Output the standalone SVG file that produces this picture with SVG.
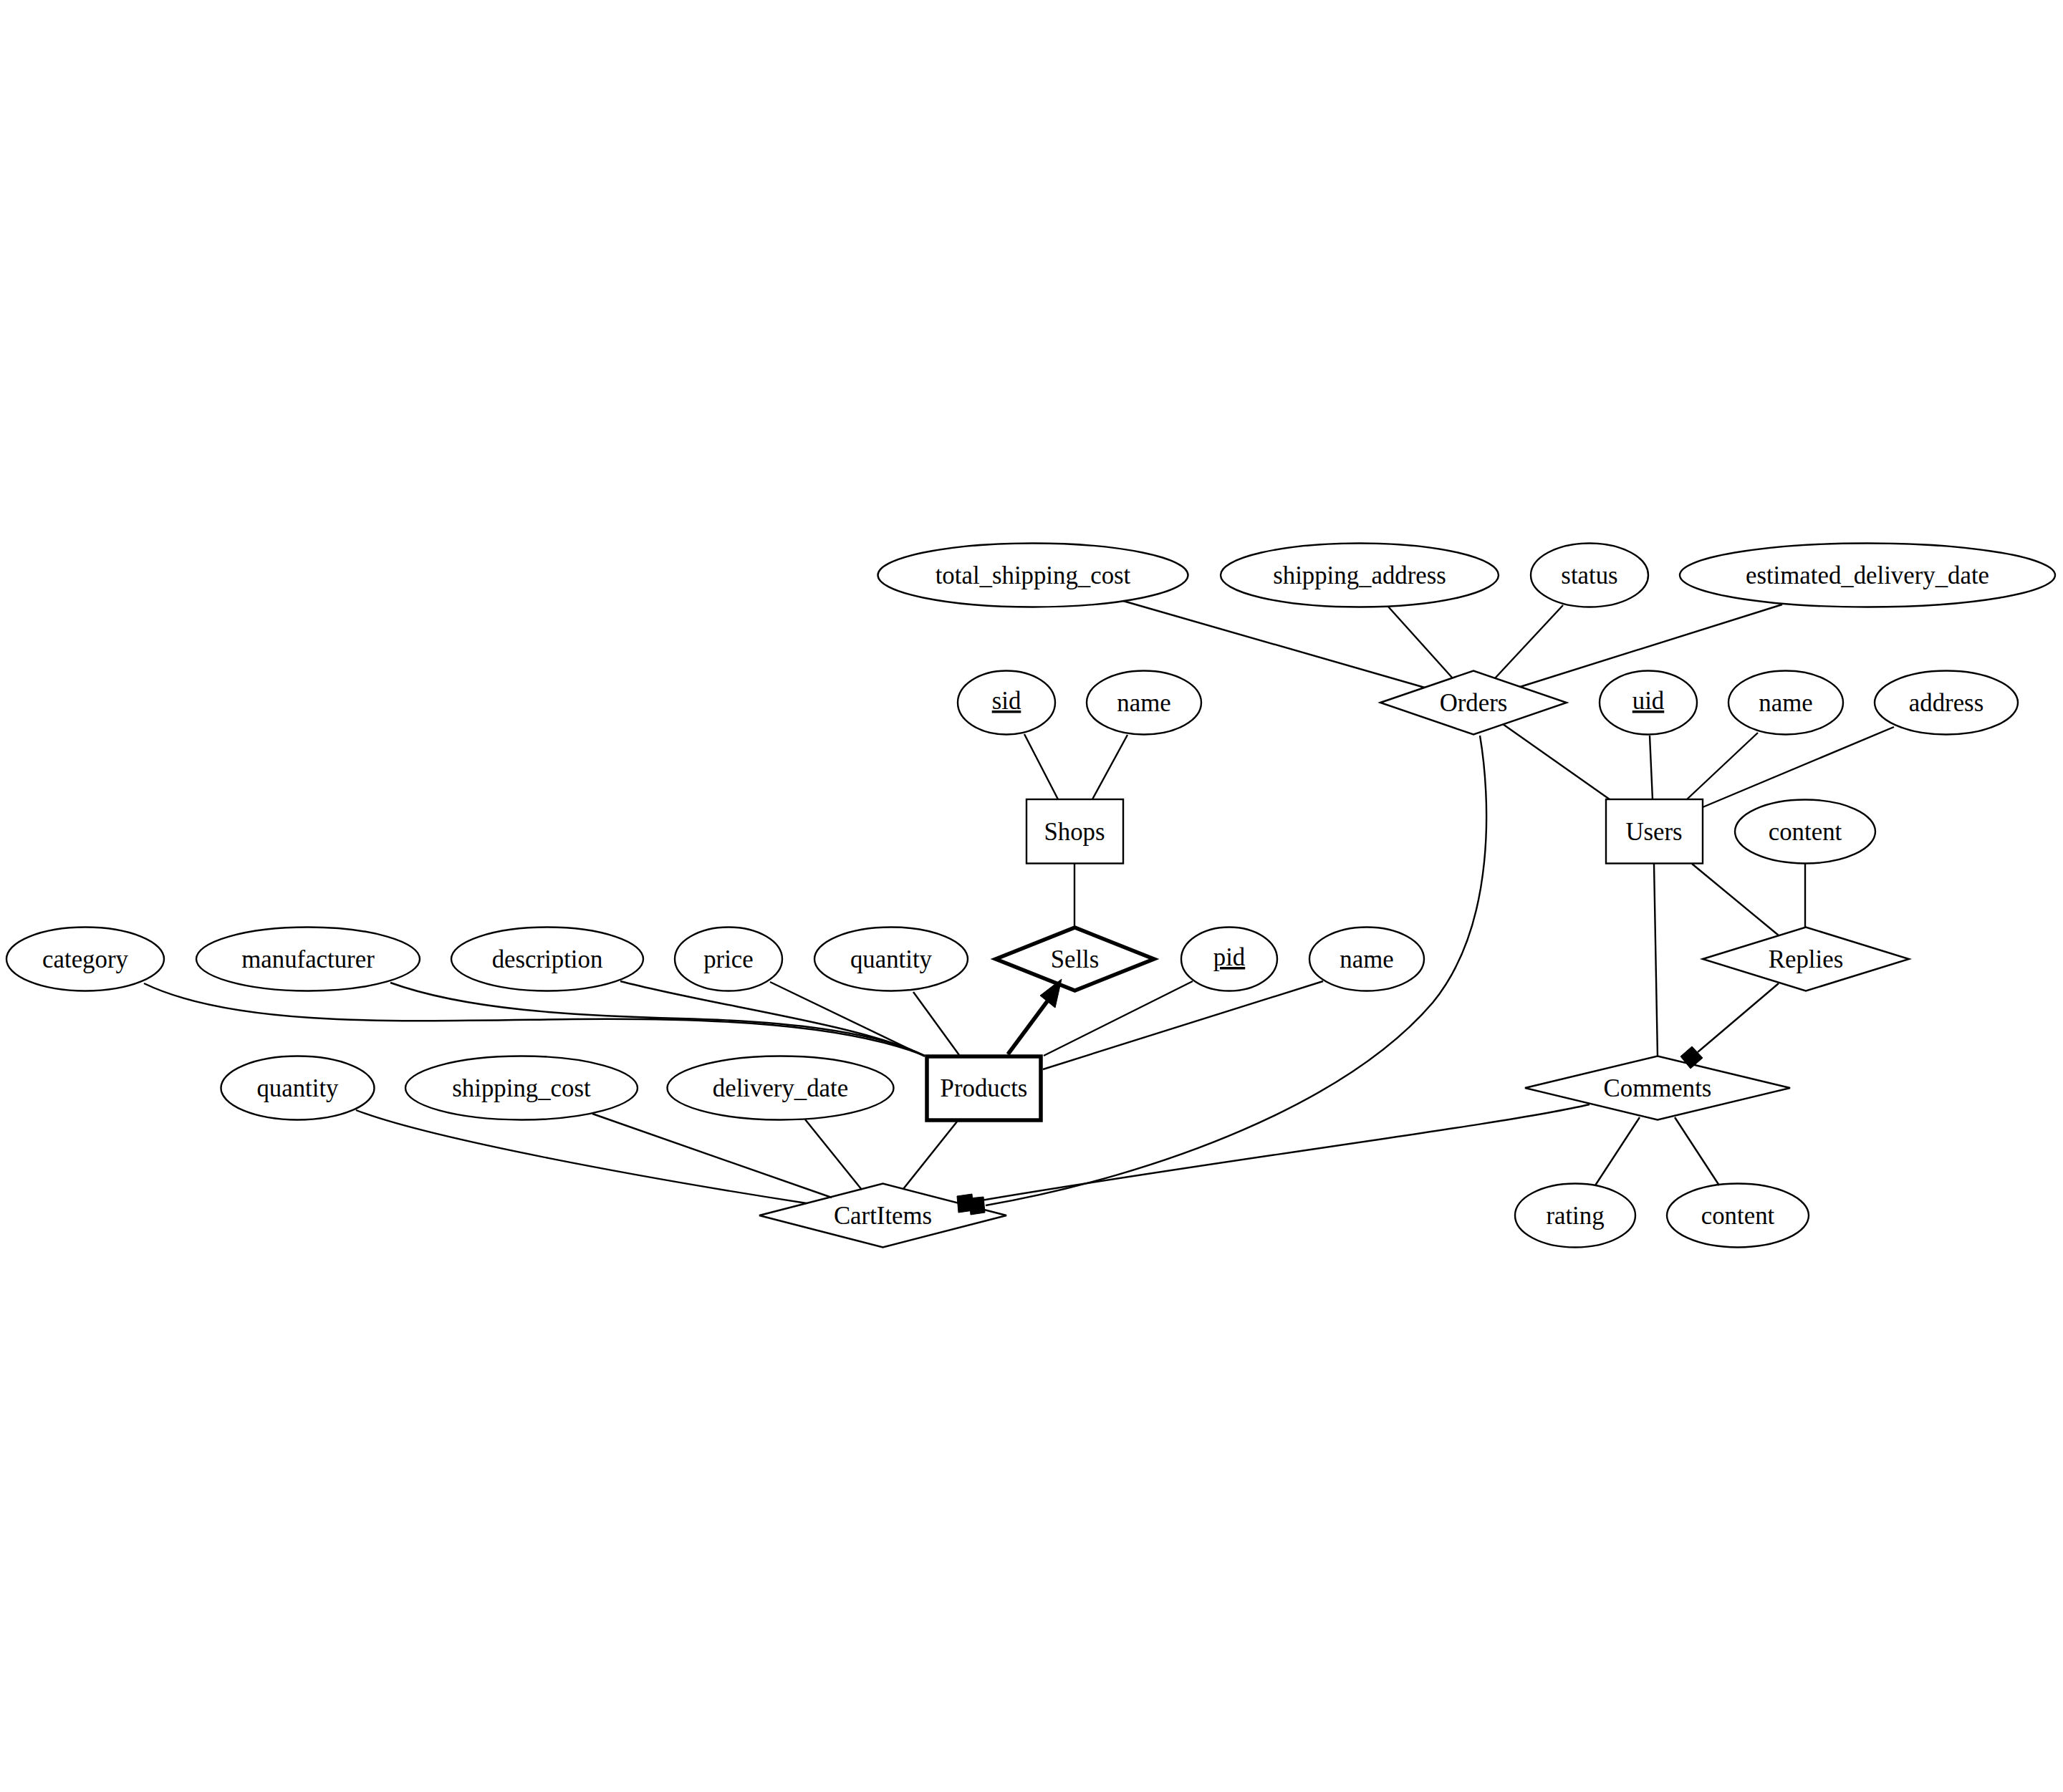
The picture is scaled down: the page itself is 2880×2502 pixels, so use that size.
<svg xmlns="http://www.w3.org/2000/svg" width="2880" height="2502" viewBox="0 0 2880 2502">
<style>
.s{fill:#fff;stroke:#000;stroke-width:2.4}
.bd{fill:#fff;stroke:#000;stroke-width:5.5}
.e{fill:none;stroke:#000;stroke-width:2.4}
.eb{fill:none;stroke:#000;stroke-width:5.5}
.m{fill:#000;stroke:#000;stroke-width:1}
text{font-family:"Liberation Serif","Times New Roman",serif;font-size:34.8px;text-anchor:middle;fill:#000}
.u{text-decoration:underline}
</style>
<rect width="2880" height="2502" fill="#fff"/>
<g id="total_shipping_cost"><ellipse class="s" cx="1442" cy="803" rx="216.5" ry="44.5"/><text x="1442" y="815">total_shipping_cost</text></g>
<g id="shipping_address"><ellipse class="s" cx="1898" cy="803" rx="194" ry="44.5"/><text x="1898" y="815">shipping_address</text></g>
<g id="status"><ellipse class="s" cx="2219" cy="803" rx="82" ry="44.5"/><text x="2219" y="815">status</text></g>
<g id="estimated_delivery_date"><ellipse class="s" cx="2607" cy="803" rx="262" ry="44.5"/><text x="2607" y="815">estimated_delivery_date</text></g>
<g id="Orders"><polygon class="s" points="1927,981 2057,936.5 2187,981 2057,1025.5"/><text x="2057" y="993">Orders</text></g>
<g id="shops_sid"><ellipse class="s" cx="1405" cy="981" rx="68" ry="44.5"/><text class="u" x="1405" y="990">sid</text></g>
<g id="shops_name"><ellipse class="s" cx="1597" cy="981" rx="80" ry="44.5"/><text x="1597" y="993">name</text></g>
<g id="users_uid"><ellipse class="s" cx="2301" cy="981" rx="68" ry="44.5"/><text class="u" x="2301" y="990">uid</text></g>
<g id="users_name"><ellipse class="s" cx="2493" cy="981" rx="80" ry="44.5"/><text x="2493" y="993">name</text></g>
<g id="users_address"><ellipse class="s" cx="2717" cy="981" rx="100" ry="44.5"/><text x="2717" y="993">address</text></g>
<g id="Shops"><rect class="s" x="1433" y="1116" width="135" height="89.5"/><text x="1500" y="1173">Shops</text></g>
<g id="Users"><rect class="s" x="2242" y="1116" width="135" height="89.5"/><text x="2309" y="1173">Users</text></g>
<g id="replies_content"><ellipse class="s" cx="2520" cy="1161" rx="98" ry="44.5"/><text x="2520" y="1173">content</text></g>
<g id="category"><ellipse class="s" cx="119" cy="1339" rx="110" ry="44.5"/><text x="119" y="1351">category</text></g>
<g id="manufacturer"><ellipse class="s" cx="430" cy="1339" rx="156" ry="44.5"/><text x="430" y="1351">manufacturer</text></g>
<g id="description"><ellipse class="s" cx="764" cy="1339" rx="134" ry="44.5"/><text x="764" y="1351">description</text></g>
<g id="price"><ellipse class="s" cx="1017" cy="1339" rx="75" ry="44.5"/><text x="1017" y="1351">price</text></g>
<g id="products_quantity"><ellipse class="s" cx="1244" cy="1339" rx="107" ry="44.5"/><text x="1244" y="1351">quantity</text></g>
<g id="Sells"><polygon class="bd" points="1390,1339 1500.5,1295 1611,1339 1500.5,1383"/><text x="1500.5" y="1351">Sells</text></g>
<g id="pid"><ellipse class="s" cx="1716" cy="1339" rx="67" ry="44.5"/><text class="u" x="1716" y="1348">pid</text></g>
<g id="products_name"><ellipse class="s" cx="1908" cy="1339" rx="80" ry="44.5"/><text x="1908" y="1351">name</text></g>
<g id="Replies"><polygon class="s" points="2377,1339 2521,1294.5 2665,1339 2521,1383.5"/><text x="2521" y="1351">Replies</text></g>
<g id="cart_quantity"><ellipse class="s" cx="415.5" cy="1519" rx="107" ry="44.5"/><text x="415.5" y="1531">quantity</text></g>
<g id="shipping_cost"><ellipse class="s" cx="728" cy="1519" rx="162" ry="44.5"/><text x="728" y="1531">shipping_cost</text></g>
<g id="delivery_date"><ellipse class="s" cx="1089.5" cy="1519" rx="158" ry="44.5"/><text x="1089.5" y="1531">delivery_date</text></g>
<g id="Products"><rect class="bd" x="1294" y="1475" width="159" height="89"/><text x="1373.5" y="1531">Products</text></g>
<g id="Comments"><polygon class="s" points="2129,1519 2314,1474.5 2499,1519 2314,1563.5"/><text x="2314" y="1531">Comments</text></g>
<g id="CartItems"><polygon class="s" points="1060,1697 1232.5,1652.5 1405,1697 1232.5,1741.5"/><text x="1232.5" y="1709">CartItems</text></g>
<g id="rating"><ellipse class="s" cx="2199" cy="1697" rx="84" ry="44.5"/><text x="2199" y="1709">rating</text></g>
<g id="comments_content"><ellipse class="s" cx="2426" cy="1697" rx="99" ry="44.5"/><text x="2426" y="1709">content</text></g>
<g id="connectors">
<path class="e" d="M1568,839L1989,960"/>
<path class="e" d="M1938,847L2028,947"/>
<path class="e" d="M2182,845L2087,947"/>
<path class="e" d="M2488,844L2122,959"/>
<path class="e" d="M2098,1011L2247,1116"/>
<path class="e" d="M1430,1025L1477,1116"/>
<path class="e" d="M1574,1026L1525,1116"/>
<path class="e" d="M2303,1027L2307,1116"/>
<path class="e" d="M2454,1023L2355,1116"/>
<path class="e" d="M2644,1015L2377,1127"/>
<path class="e" d="M1500,1206L1500,1296"/>
<path class="e" d="M2362,1206L2483,1306"/>
<path class="e" d="M2520,1205L2520,1295"/>
<path class="e" d="M2309,1206L2314,1475"/>
<path class="e" d="M2483,1373L2370,1469"/>
<path class="e" d="M2289,1560L2227,1655"/>
<path class="e" d="M2338,1560L2400,1655"/>
<path class="e" d="M2066,1027C2080,1110 2090,1290 2000,1400C1880,1540 1620,1640 1376,1683"/>
<path class="e" d="M2219,1542C2100,1570 1700,1620 1370,1676"/>
<path class="e" d="M201,1373C330,1435 560,1426 800,1423C1000,1421 1180,1430 1291,1474"/>
<path class="e" d="M545,1372C650,1410 800,1418 950,1422C1100,1426 1220,1440 1291,1474"/>
<path class="e" d="M866,1370C1000,1405 1200,1430 1291,1474"/>
<path class="e" d="M1075,1371L1291,1475"/>
<path class="e" d="M1275,1385L1339,1473"/>
<path class="e" d="M1665,1370L1457,1474"/>
<path class="e" d="M1847,1370L1456,1493"/>
<path class="e" d="M1336,1566L1261,1660"/>
<path class="e" d="M1124,1563L1203,1661"/>
<path class="e" d="M827,1555L1161,1672"/>
<path class="e" d="M497,1550C600,1590 900,1645 1126,1680"/>
<path class="eb" d="M1407,1472L1462,1398"/>
<polygon class="m" stroke-width="4" points="1482,1367 1452,1390 1473,1407"/>
<polygon class="m" points="2362,1461 2377,1477 2360,1492 2346,1475"/>
<polygon class="m" points="1336,1670 1357,1667 1359,1690 1338,1693"/>
<polygon class="m" points="1353,1673 1373,1671 1375,1693 1355,1696"/>
</g>
</svg>
